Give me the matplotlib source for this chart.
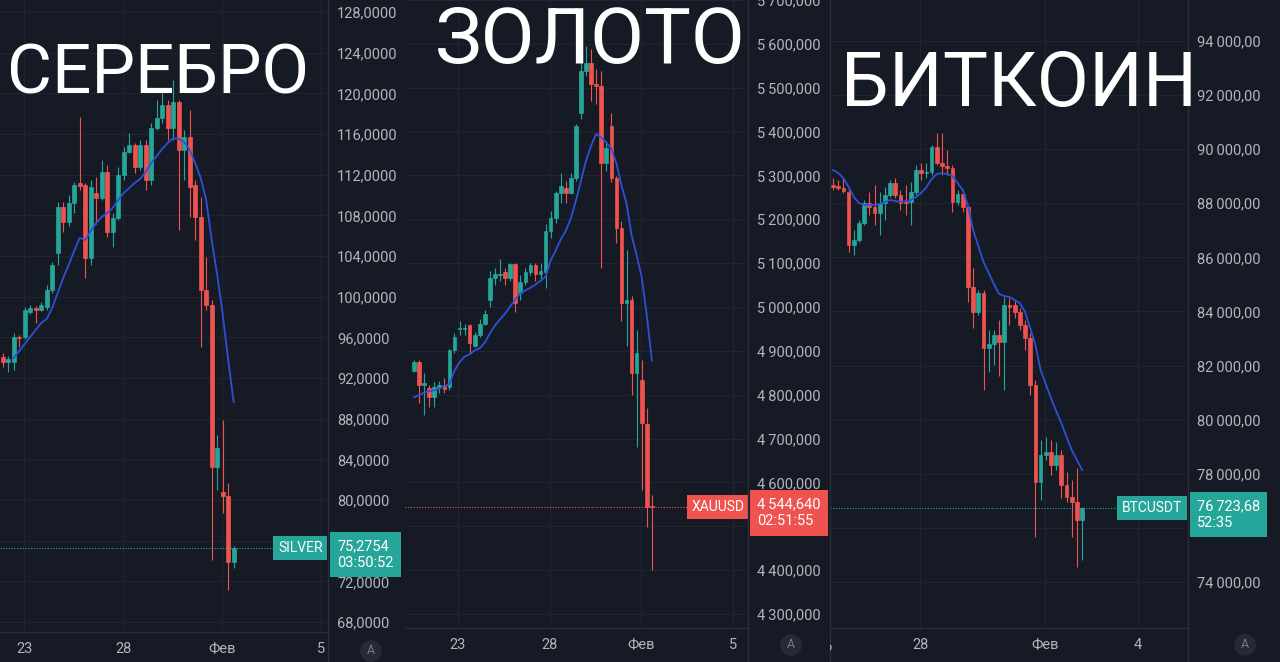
import numpy as np
import matplotlib
matplotlib.use('Agg')
import matplotlib.pyplot as plt
from matplotlib.lines import Line2D
from matplotlib.transforms import Bbox, TransformedBbox

# ---- data (4h bars) ----
silver_open = [94.08, 93.6, 93.58, 96.04, 96.0, 98.5, 98.89, 98.7, 98.99, 100.66, 104.30, 108.83, 107.35, 109.22, 111.2,
               110.99, 103.81, 110.20, 109.71, 112.27, 106.37, 107.74, 111.97, 114.23, 114.92, 112.76, 114.92, 111.48,
               116.59, 117.58, 118.86, 116.59, 119.15, 114.43, 115.71, 110.99, 107.84, 100.66, 99.19, 83.26, 80.80,
               80.41, 73.92]
silver_high = [94.5, 94.2, 96.44, 96.2, 99.0, 99.2, 99.1, 99.5, 101.2, 103.4, 109.32, 109.3, 110.0, 111.3, 117.68,
               111.18, 111.5, 111.8, 113.4, 112.95, 108.2, 112.76, 114.7, 116.1, 115.1, 115.4, 115.4, 117.1, 119.3,
               120.3, 119.3, 121.3, 119.3, 116.4, 118.36, 111.5, 109.81, 103.91, 99.7, 86.41, 87.88, 81.69, 75.5]
silver_low = [93.1, 92.6, 92.80, 95.1, 95.8, 98.3, 97.42, 98.6, 98.7, 100.4, 103.12, 106.4, 107.0, 108.2, 110.5,
              101.84, 103.12, 107.2, 109.5, 105.9, 104.9, 107.5, 111.5, 114.1, 112.2, 112.5, 110.5, 111.0, 116.4,
              117.1, 115.4, 115.4, 106.56, 111.48, 107.84, 105.6, 95.06, 98.7, 74.11, 81.0, 78.74, 71.16, 73.33]
silver_close = [93.58, 93.9, 96.04, 95.94, 98.70, 98.89, 98.70, 99.19, 100.66, 103.12, 108.83, 107.35, 109.22, 110.99,
                110.9, 103.81, 110.79, 109.71, 112.27, 106.37, 107.74, 111.97, 114.23, 114.92, 112.76, 114.92, 111.48,
                116.59, 117.58, 118.86, 116.59, 119.15, 114.43, 115.71, 110.79, 107.84, 100.66, 99.19, 83.26, 85.13,
                80.41, 73.92, 75.28]
silver_ma = [np.nan, np.nan, 93.98, 94.67, 95.35, 96.04, 96.73, 97.42, 97.81, 98.89, 100.37, 101.84, 103.12, 104.50,
             105.78, 105.58, 106.47, 107.25, 107.84, 108.24, 108.73, 109.51, 110.20, 110.69, 111.19, 111.58, 112.27,
             113.15, 113.84, 114.53, 115.12, 115.61, 115.51, 115.22, 114.43, 113.15, 111.68, 109.51, 105.58, 102.14,
             98.30, 93.78, 89.65]
silver_ticks = [3.9, 21.9, 39.9, 57.9]
silver_tick_labels = ['23', '28', 'Фев', '5']

gold_open = [4855, 4874, 4821, 4815, 4794, 4817, 4821, 4817, 4901, 4949, 4950, 4958, 4912, 4935, 4962, 5015, 5067,
             5072, 5079, 5065, 5099, 5031, 5056, 5079, 5095, 5076, 5079, 5174, 5202, 5259, 5272, 5261, 5293, 5443,
             5539, 5557, 5509, 5504, 5329, 5413, 5295, 5181, 5010, 5015, 4849, 4833, 4733, 4546]
gold_high = [4878, 4878, 4849, 4821, 4828, 4832, 4837, 4905, 4940, 4969, 4962, 4962, 4942, 4973, 4992, 5083, 5088,
             5110, 5088, 5101, 5101, 5072, 5088, 5101, 5101, 5101, 5190, 5220, 5265, 5306, 5288, 5306, 5418, 5561,
             5595, 5589, 5543, 5539, 5379, 5443, 5299, 5197, 5129, 5026, 4947, 4878, 4769, 4571]
gold_low = [4851, 4780, 4753, 4771, 4771, 4803, 4803, 4810, 4896, 4935, 4935, 4896, 4908, 4931, 4958, 4999, 5049,
            5060, 5049, 5060, 4988, 5015, 5049, 5072, 5060, 5060, 5044, 5158, 5192, 5236, 5236, 5258, 5288, 5429,
            5527, 5470, 5463, 5090, 5311, 5284, 5147, 4969, 4912, 4799, 4680, 4582, 4498, 4400]
gold_close = [4874, 4821, 4826, 4794, 4817, 4821, 4814, 4901, 4931, 4953, 4953, 4917, 4935, 4962, 4985, 5067, 5076,
              5076, 5065, 5099, 5008, 5056, 5079, 5095, 5076, 5083, 5174, 5202, 5259, 5277, 5261, 5295, 5413, 5539,
              5557, 5509, 5504, 5329, 5363, 5295, 5181, 5010, 5015, 4849, 4894, 4735, 4545, 4544.64]
gold_ma = [4794, 4799, 4805, 4808, 4810, 4814, 4819, 4824, 4855, 4874, 4887, 4892, 4901, 4906, 4919, 4940, 4958,
           4972, 4985, 5001, 5017, 5031, 5038, 5044, 5051, 5060, 5069, 5106, 5129, 5154, 5174, 5202, 5243, 5288,
           5334, 5368, 5395, 5386, 5375, 5361, 5327, 5277, 5236, 5163, 5118, 5067, 4981, 4878]
gold_ticks = [8.7, 26.8, 44.9, 63.0]
gold_tick_labels = ['23', '28', 'Фев', '5']

btc_open = [88676, 88639, 88565, 88417, 86458, 86643, 87271, 88011, 87863, 87641, 88011, 88307, 88750, 88307, 88048,
            88048, 88417, 89231, 89120, 89157, 90081, 89490, 89379, 89305, 88048, 88344, 87863, 84905, 83981, 84684,
            82650, 82798, 83131, 82872, 84240, 84240, 83981, 83500, 83020, 81282, 77696, 78694, 78806, 78325, 78694,
            77585, 77141, 76957, 76291]
btc_high = [88935, 88861, 88935, 88565, 87013, 87382, 88122, 88417, 88676, 88417, 88602, 88861, 88935, 88491, 88676,
            88787, 89416, 89490, 89490, 90155, 90599, 90599, 89971, 89416, 88491, 88491, 87937, 85608, 84795, 84795,
            83316, 83316, 83685, 84536, 84499, 84425, 84129, 83685, 83205, 81467, 79249, 79360, 79249, 79175, 78879,
            78066, 77770, 78214, 76772]
btc_low = [88491, 88491, 88380, 86199, 86088, 86569, 87197, 87567, 87197, 86828, 87382, 88233, 88196, 87752, 87567,
           87197, 88307, 88861, 88935, 89046, 89416, 89046, 89046, 87678, 87937, 87678, 84351, 83389, 83870, 81097,
           81763, 82022, 81615, 81097, 83500, 83759, 83316, 82576, 80913, 75663, 77030, 78509, 77955, 78140, 77104,
           76957, 75663, 74554, 74812]
btc_close = [88602, 88565, 88454, 86458, 86643, 87271, 88011, 87863, 87641, 88011, 88307, 88750, 88307, 88011, 88011,
             88417, 89231, 89120, 89157, 90081, 89490, 89379, 89305, 88048, 88344, 87863, 84905, 83981, 84684, 82650,
             82798, 83131, 82872, 84240, 84166, 83981, 83500, 83020, 81282, 77696, 78694, 78806, 78325, 78694, 77585,
             77141, 76957, 76291, 76723.68]
btc_ma = [89231, 89120, 88935, 88602, 88233, 88011, 87937, 87937, 87937, 87974, 88048, 88122, 88085, 88048, 88085,
          88122, 88233, 88381, 88602, 88898, 89083, 89120, 89083, 89009, 88750, 88491, 87900, 87013, 86421, 85830,
          85423, 85016, 84647, 84573, 84536, 84425, 84314, 83981, 83389, 82761, 81837, 81319, 80802, 80321, 79878,
          79360, 78879, 78509, 78140]
btc_ticks = [16.8, 40.8, 58.8]
btc_tick_labels = ['28', 'Фев', '4']

# ---- style ----
W, H = 1280, 662
BG = '#161a25'
GRID = '#20242f'
SEP = '#2a2e39'
TXT = '#b2b5be'
UP = '#26a69a'
DOWN = '#ef5350'
MA_COL = '#2d50d8'

plt.rcParams['font.family'] = ['Roboto', 'DejaVu Sans']

fig = plt.figure(figsize=(W / 100, H / 100), dpi=100)
fig.patch.set_facecolor(BG)


def rect(x0, y0, x1, y1):
    return [x0 / W, 1 - y1 / H, (x1 - x0) / W, (y1 - y0) / H]


def fmt_silver(v):
    return f'{v:.4f}'.replace('.', ',')


def fmt_gold(v):
    return f'{v:,.3f}'.replace(',', '\u2009').replace('.', ',')


def fmt_btc(v):
    return f'{v:,.2f}'.replace(',', '\u2009').replace('.', ',')


def draw_panel(box, o, h, l, c, ma, xlim, ylim, levels, fmt, hidden, ticks, tick_labels):
    ax = fig.add_axes(rect(*box))
    ax.set_facecolor(BG)
    o, h, l, c = (np.asarray(a, dtype=float) for a in (o, h, l, c))
    x = np.arange(len(o))
    cols = np.where(c >= o, UP, DOWN)
    ax.vlines(x, l, h, colors=cols, lw=0.8, zorder=2)
    ax.bar(x, np.abs(c - o), 0.72, bottom=np.minimum(o, c), color=cols,
           edgecolor=cols, linewidth=0.5, zorder=3)
    ax.plot(x, ma, color=MA_COL, lw=1.3, zorder=4)
    ax.set_xlim(*xlim)
    ax.set_ylim(*ylim)
    # labels sitting under the live price box are not drawn (grid line stays)
    ax.set_yticks(levels, ['' if v in hidden else fmt(v) for v in levels])
    ax.set_xticks(ticks, tick_labels)
    ax.yaxis.tick_right()
    ax.tick_params(axis='y', length=0, pad=6.5, colors=TXT, labelsize=10.5)
    ax.tick_params(axis='x', length=0, pad=7.5, colors=TXT, labelsize=10.5)
    ax.grid(True, color=GRID, lw=0.8, zorder=0)
    ax.set_axisbelow(True)
    for s in ax.spines.values():
        s.set_visible(False)
    return ax


def price_label(ax, price, sym, value, color, sym_gap):
    ax.axhline(price, color=color, lw=0.8, ls=(0, (1, 1.5)), zorder=5)
    ax.annotate(sym, xy=(1, price), xycoords=('axes fraction', 'data'),
                xytext=(-sym_gap, 0), textcoords='offset points', ha='right', va='center',
                color='white', fontsize=10, zorder=6, annotation_clip=False,
                bbox=dict(boxstyle='square,pad=0.35', fc=color, ec='none'))
    ax.annotate(value, xy=(1, price), xycoords=('axes fraction', 'data'),
                xytext=(6.5, 6.5), textcoords='offset points', ha='left', va='top',
                color='white', fontsize=10.5, zorder=6, annotation_clip=False, linespacing=1.25,
                bbox=dict(boxstyle='square,pad=0.5', fc=color, ec='none'))


ax_s = draw_panel((0, 0, 328, 632), silver_open, silver_high, silver_low, silver_close, silver_ma,
                  (-0.49, 59.15), (67.03, 129.18), list(range(68, 129, 4)), fmt_silver, [],
                  silver_ticks, silver_tick_labels)
price_label(ax_s, 75.2754, 'SILVER', '75,2754\n03:50:52', UP, 4)

ax_b = draw_panel((830, 0, 1188, 628), btc_open, btc_high, btc_low, btc_close, btc_ma,
                  (-0.58, 68.4), (72298, 95516), list(range(74000, 94001, 2000)), fmt_btc, [76000],
                  btc_ticks, btc_tick_labels)
price_label(ax_b, 76723.68, 'BTCUSDT', '76\u2009723,68\n52:35', UP, 4)

ax_g = draw_panel((405, 0, 748, 628), gold_open, gold_high, gold_low, gold_close, gold_ma,
                  (-1.78, 66.0), (4268.0, 5697.9), list(range(4300, 5701, 100)), fmt_gold, [4500],
                  gold_ticks, gold_tick_labels)
price_label(ax_g, 4544.64, 'XAUUSD', '4\u2009544,640\n02:51:55', DOWN, 2.5)

# partly hidden date label at the left edge of the bitcoin panel
t = fig.text(825 / W, 1 - 647 / H, '26', color=TXT, fontsize=10.5, ha='center', va='center')
t.set_clip_box(TransformedBbox(Bbox.from_extents(830 / W, 0, 1, 1), fig.transFigure))
t.set_clip_on(True)

# panel separators
for xs in [328, 748, 830, 1188]:
    fig.add_artist(Line2D([xs / W, xs / W], [0, 1], color=SEP, lw=1))
for x0, x1, yb in [(0, 328, 632), (405, 748, 628), (830, 1188, 628)]:
    fig.add_artist(Line2D([x0 / W, x1 / W], [1 - yb / H, 1 - yb / H], color=SEP, lw=1))

# auto-scale buttons
for bx, by in [(371, 651), (791, 645), (1245, 645)]:
    fig.text(bx / W, 1 - by / H, 'A', color='#787b86', fontsize=9, ha='center', va='center',
             bbox=dict(boxstyle='circle,pad=0.35', fc='#262a35', ec='none'))

# big titles
fig.text(7 / W, 1 - 93 / H, 'СЕРЕБРО', color='white', fontsize=49.8, ha='left', va='baseline')
fig.text(435 / W, 1 - 63 / H, 'ЗОЛОТО', color='white', fontsize=56.5, ha='left', va='baseline')
fig.text(841 / W, 1 - 106 / H, 'БИТКОИН', color='white', fontsize=54.5, ha='left', va='baseline')

fig.savefig('out.png', dpi=100, facecolor=BG)
